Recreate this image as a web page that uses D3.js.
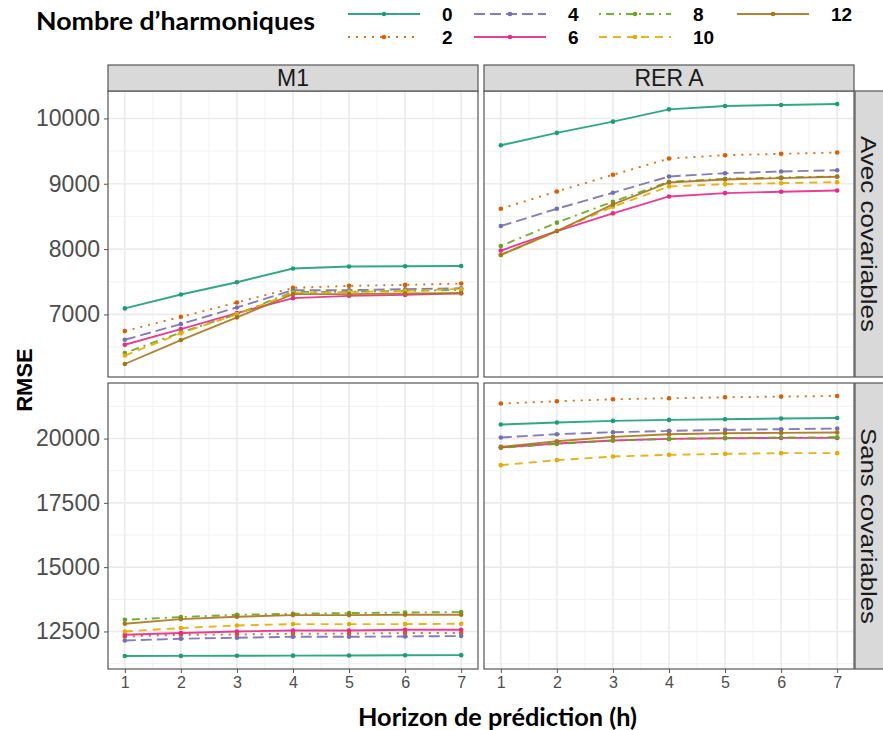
<!DOCTYPE html>
<html><head><meta charset="utf-8">
<script src="https://cdn.jsdelivr.net/npm/d3@7"></script>
<style>body{margin:0;background:#fff}</style>
</head><body>
<svg id="c" width="883" height="730"></svg>
<script>
const horizons = [1,2,3,4,5,6,7];
const harmonics = ["0","2","4","6","8","10","12"];
const colors = ["#1B9E77","#D95F02","#7570B3","#E7298A","#66A61E","#E6AB02","#A6761D"];
const dashes = [null,"2,6","11,5",null,"2,5,8,5","8,6",null];
const stations = ["M1","RER A"];
const covariates = ["Avec covariables","Sans covariables"];
const yTicksAvec = [7000,8000,9000,10000];
const yTicksSans = [12500,15000,17500,20000];

// rows: harmonics 0,2,4,6,8,10,12 ; cols: horizons 1..7
const m1Avec = [
 [7092,7305,7493,7702,7733,7737,7742],
 [6745,6963,7183,7406,7437,7452,7473],
 [6612,6852,7107,7371,7371,7386,7401],
 [6536,6776,7020,7249,7284,7299,7325],
 [6409,6725,7005,7345,7345,7360,7375],
 [6370,6710,7005,7330,7345,7360,7390],
 [6241,6608,6954,7310,7310,7321,7325]];
const rerAvec = [
 [9589,9779,9951,10139,10191,10206,10221],
 [8618,8882,9137,9386,9437,9458,9478],
 [8353,8618,8863,9111,9162,9188,9208],
 [7977,8276,8547,8806,8857,8878,8898],
 [8047,8405,8725,9031,9076,9096,9111],
 [7910,8276,8649,8959,8994,9009,9025],
 [7910,8276,8684,9020,9066,9086,9107]];
const m1Sans = [
 [11546,11550,11555,11560,11565,11575,11580],
 [12306,12372,12380,12411,12415,12438,12440],
 [12151,12217,12256,12294,12294,12306,12322],
 [12372,12438,12500,12539,12539,12566,12566],
 [12954,13059,13148,13187,13214,13237,13253],
 [12500,12632,12733,12787,12787,12787,12799],
 [12799,12981,13070,13136,13136,13148,13148]];
const rerSans = [
 [20545,20622,20685,20724,20751,20778,20801],
 [21360,21449,21527,21566,21604,21631,21654],
 [20041,20169,20246,20297,20336,20363,20390],
 [19653,19808,19924,19986,20013,20025,20025],
 [19640,19790,19924,19986,20025,20040,20050],
 [18966,19160,19300,19366,19405,19432,19432],
 [19676,19897,20064,20169,20207,20219,20235]];

const svg = d3.select("#c");
const colX = [[108,478],[484,854]];
const rowY = [[91,377],[383,669]];
const stripTop = 65;
const stripRight = [855,883];
const panels = [[m1Avec, rerAvec],[m1Sans, rerSans]];
const yTickSets = [yTicksAvec, yTicksSans];

const sans = "'Liberation Sans', Arial, sans-serif";

rowY.forEach((ry, r) => {
  const all = panels[r].flat(2);
  const [mn, mx] = d3.extent(all);
  const pad = (mx - mn) * 0.05;
  const y = d3.scaleLinear().domain([mn - pad, mx + pad]).range([ry[1], ry[0]]);
  const major = yTickSets[r];
  const step = major[1] - major[0];
  const minor = [];
  for (let v = major[0] - step/2; v <= mx + pad; v += step) if (v >= mn - pad) minor.push(v);

  colX.forEach((cx, c) => {
    const x = d3.scaleLinear().domain([0.7, 7.3]).range([cx[0], cx[1]]);
    const g = svg.append("g");
    g.append("rect").attr("x", cx[0]).attr("y", ry[0]).attr("width", cx[1]-cx[0]).attr("height", ry[1]-ry[0]).attr("fill", "#fff");
    minor.forEach(v => g.append("line").attr("x1", cx[0]).attr("x2", cx[1]).attr("y1", y(v)).attr("y2", y(v)).attr("stroke", "#F2F2F2").attr("stroke-width", 1));
    d3.range(1.5, 7, 1).forEach(v => g.append("line").attr("x1", x(v)).attr("x2", x(v)).attr("y1", ry[0]).attr("y2", ry[1]).attr("stroke", "#F2F2F2").attr("stroke-width", 1));
    major.forEach(v => g.append("line").attr("x1", cx[0]).attr("x2", cx[1]).attr("y1", y(v)).attr("y2", y(v)).attr("stroke", "#EBEBEB").attr("stroke-width", 1.6));
    horizons.forEach(v => g.append("line").attr("x1", x(v)).attr("x2", x(v)).attr("y1", ry[0]).attr("y2", ry[1]).attr("stroke", "#EBEBEB").attr("stroke-width", 1.6));

    const data = panels[r][c];
    const line = d3.line().x((d,i) => x(horizons[i])).y(d => y(d));
    data.forEach((s, k) => {
      const p = g.append("path").attr("d", line(s)).attr("fill", "none")
        .attr("stroke", colors[k]).attr("stroke-width", 1.9).attr("stroke-opacity", 0.9);
      if (dashes[k]) p.attr("stroke-dasharray", dashes[k]);
      g.selectAll(null).data(s).join("circle")
        .attr("cx", (d,i) => x(horizons[i])).attr("cy", d => y(d)).attr("r", 2.3)
        .attr("fill", colors[k]);
    });
    g.append("rect").attr("x", cx[0]).attr("y", ry[0]).attr("width", cx[1]-cx[0]).attr("height", ry[1]-ry[0])
      .attr("fill", "none").attr("stroke", "#555").attr("stroke-width", 1.2);

    if (c === 0) {
      const ax = svg.append("g").attr("transform", `translate(${cx[0]},0)`)
        .call(d3.axisLeft(y).tickValues(major).tickSize(4).tickPadding(4).tickFormat(d3.format("d")));
      ax.select(".domain").remove();
      ax.selectAll("line").attr("stroke", "#555");
      ax.selectAll("text").attr("font-family", sans).attr("font-size", 23).attr("fill", "#4D4D4D");
    }
    if (r === 1) {
      const ax = svg.append("g").attr("transform", `translate(0,${ry[1]})`)
        .call(d3.axisBottom(x).tickValues(horizons).tickSize(4).tickPadding(4).tickFormat(d3.format("d")));
      ax.select(".domain").remove();
      ax.selectAll("line").attr("stroke", "#555");
      ax.selectAll("text").attr("font-family", "'Liberation Sans Narrow', 'Liberation Sans', sans-serif").attr("font-size", 16).attr("fill", "#4D4D4D");
    }
    if (r === 0) {
      svg.append("rect").attr("x", cx[0]).attr("y", stripTop).attr("width", cx[1]-cx[0]).attr("height", ry[0]-stripTop)
        .attr("fill", "#D9D9D9").attr("stroke", "#555").attr("stroke-width", 1.2);
      svg.append("text").attr("x", (cx[0]+cx[1])/2).attr("y", (stripTop+ry[0])/2).attr("dy", "0.36em")
        .attr("text-anchor", "middle").attr("font-family", sans).attr("font-size", 23).attr("fill", "#1A1A1A").text(stations[c]);
    }
  });
  svg.append("rect").attr("x", stripRight[0]).attr("y", ry[0]).attr("width", stripRight[1]-stripRight[0]+2).attr("height", ry[1]-ry[0])
    .attr("fill", "#D9D9D9").attr("stroke", "#555").attr("stroke-width", 1.2);
  const cxs = (stripRight[0]+stripRight[1])/2, cys = (ry[0]+ry[1])/2;
  svg.append("text").attr("transform", `translate(${cxs},${cys}) rotate(90)`).attr("dy", "0.36em")
    .attr("text-anchor", "middle").attr("font-family", sans).attr("font-size", 22).attr("fill", "#1A1A1A")
    .attr("textLength", 196).attr("lengthAdjust", "spacingAndGlyphs").text(covariates[r]);
});

svg.append("text").attr("transform", `translate(24,${(rowY[0][0]+rowY[1][1])/2}) rotate(-90)`).attr("dy", "0.36em")
  .attr("text-anchor", "middle").attr("font-family", sans).attr("font-weight", "bold").attr("font-size", 22).attr("fill", "#000").text("RMSE");
svg.append("text").attr("x", 358).attr("y", 717).attr("dy", "0.36em")
  .attr("font-family", "Lato, 'Open Sans', sans-serif").attr("font-weight", "bold").attr("font-size", 24).attr("fill", "#000")
  .attr("textLength", 279).attr("lengthAdjust", "spacingAndGlyphs")
  .text("Horizon de prédiction (h)");

const lg = svg.append("g");
lg.append("text").attr("x", 36).attr("y", 21).attr("dy", "0.36em")
  .attr("font-family", "Lato, 'Open Sans', sans-serif").attr("font-weight", "bold").attr("font-size", 25).attr("fill", "#000")
  .attr("textLength", 279).attr("lengthAdjust", "spacingAndGlyphs")
  .text("Nombre d\u2019harmoniques");
const legCols = [348, 474, 599, 737];
const legRows = [14, 37];
harmonics.forEach((h, k) => {
  const col = Math.floor(k / 2), row = k % 2;
  const x0 = legCols[col], yy = legRows[row];
  const p = lg.append("line").attr("x1", x0).attr("x2", x0 + 72).attr("y1", yy).attr("y2", yy)
    .attr("stroke", colors[k]).attr("stroke-width", 1.9).attr("stroke-opacity", 0.9);
  if (dashes[k]) p.attr("stroke-dasharray", dashes[k]);
  lg.append("circle").attr("cx", x0 + 36).attr("cy", yy).attr("r", 2.3).attr("fill", colors[k]);
  lg.append("text").attr("x", x0 + 94).attr("y", yy).attr("dy", "0.36em")
    .attr("font-family", sans).attr("font-weight", "bold").attr("font-size", 19).attr("fill", "#000").text(h);
});
</script>
</body></html>
